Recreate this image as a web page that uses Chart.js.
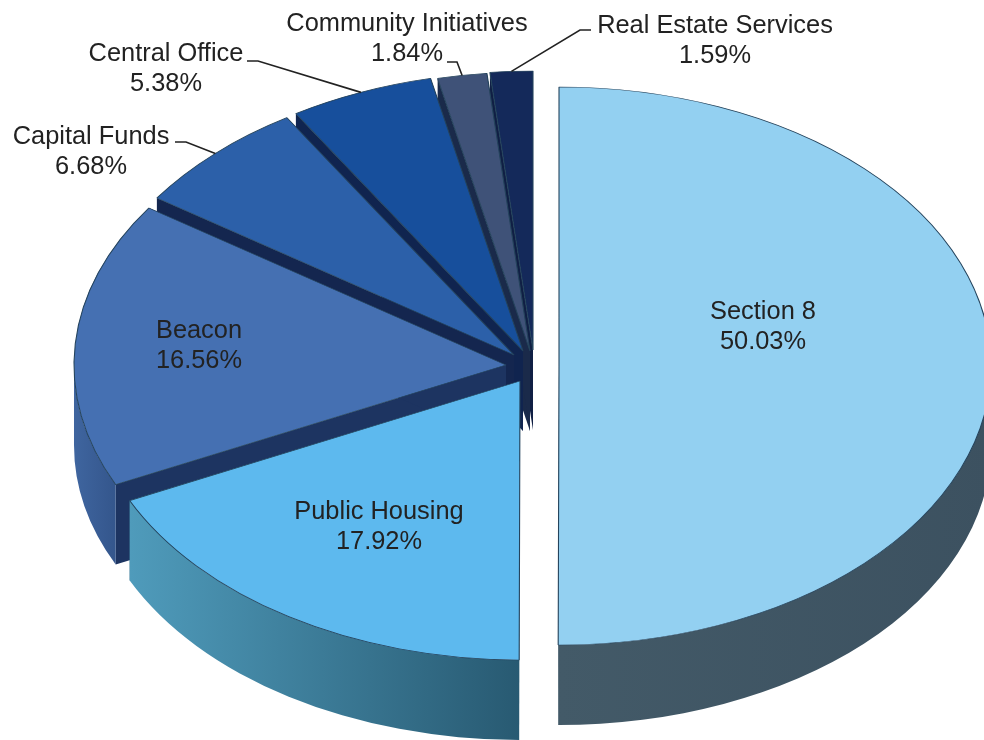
<!DOCTYPE html>
<html lang="en">
<head>
    <title>Budget by program</title>
    <script src="https://cdn.jsdelivr.net/npm/chart.js@4"></script>
    <style>
        body { margin: 0; background: #fff; }
    </style>
</head>
<body>
<canvas id="budgetPie" width="984" height="740"></canvas>

<script>
    var categories = ['Section 8', 'Public Housing', 'Beacon', 'Capital Funds', 'Central Office', 'Community Initiatives', 'Real Estate Services'];
    var shares = [50.03, 17.92, 16.56, 6.68, 5.38, 1.84, 1.59];

    var topColors = ['#93d0f1', '#5db9ee', '#4570b2', '#2c60a9', '#174f9c', '#3f5278', '#14295a'];
    var cutColors = ['#3e5563', '#285a72', '#1d3461', '#14264f', '#10244f', '#1a2a4a', '#101f44'];
    var wallLeft = ['#435a68', '#4f9bbb', '#3f659f', '#2c60a9', '#174f9c', '#3f5278', '#14295a'];
    var wallRight = ['#3c5160', '#285a72', '#34568c', '#2c60a9', '#174f9c', '#3f5278', '#14295a'];

    // how far each slice is pulled out of the pie, in px
    var shiftX = [67, 28, 14, 22, 31, 38, 41];
    var shiftY = [-4, 11, -5, -15, -19, -19, -20];

    var pieHeight = 279;    // radius, y stays 1:1
    var stretchX = 432 / pieHeight;
    var depth = 80;

    // centre of the first text line, then the leader line start and elbow
    var labelX = [763, 379, 199, 91, 166, 407, 715];
    var labelY = [312, 512, 331, 137, 54, 24, 26];
    var leaders = [null, null, null, [175, 142, 186, 142], [247, 61, 258, 61], [447, 62, 457, 62], [591, 30, 580, 30]];

    function toSliceSpace(ctx, arc, i) {
        ctx.translate(arc.x + shiftX[i], arc.y + shiftY[i]);
        ctx.scale(stretchX, 1);
        ctx.translate(-arc.x, -arc.y);
    }

    function drawCut(ctx, arc, angle, color) {
        var px = arc.x + Math.cos(angle) * arc.outerRadius;
        var py = arc.y + Math.sin(angle) * arc.outerRadius;
        ctx.fillStyle = color;
        ctx.beginPath();
        ctx.moveTo(arc.x, arc.y);
        ctx.lineTo(px, py);
        ctx.lineTo(px, py + depth);
        ctx.lineTo(arc.x, arc.y + depth);
        ctx.closePath();
        ctx.fill();
    }

    // only the front half of the rim can be seen
    function drawRim(ctx, arc, i) {
        var from = Math.max(arc.startAngle, 0);
        var to = Math.min(arc.endAngle, Math.PI);
        if (to <= from) return;
        var grad = ctx.createLinearGradient(arc.x + Math.cos(to) * arc.outerRadius, 0, arc.x + Math.cos(from) * arc.outerRadius, 0);
        grad.addColorStop(0, wallLeft[i]);
        grad.addColorStop(1, wallRight[i]);
        ctx.fillStyle = grad;
        ctx.beginPath();
        ctx.arc(arc.x, arc.y, arc.outerRadius, from, to, false);
        ctx.arc(arc.x, arc.y + depth, arc.outerRadius, to, from, true);
        ctx.closePath();
        ctx.fill();
    }

    var tiltedPie = {
        id: 'tiltedPie',
        beforeDatasetsDraw: function (chart) {
            var ctx = chart.ctx;
            var arcs = chart.getDatasetMeta(0).data;
            // back slices first, the big front ones go over them
            for (var i = arcs.length - 1; i >= 0; i--) {
                ctx.save();
                toSliceSpace(ctx, arcs[i], i);
                drawCut(ctx, arcs[i], arcs[i].startAngle, cutColors[i]);
                drawCut(ctx, arcs[i], arcs[i].endAngle, cutColors[i]);
                drawRim(ctx, arcs[i], i);
                arcs[i].draw(ctx);
                ctx.restore();
            }
            return false;
        },
        afterDraw: function (chart) {
            var ctx = chart.ctx;
            var arcs = chart.getDatasetMeta(0).data;
            ctx.save();
            ctx.strokeStyle = '#222';
            ctx.lineWidth = 1.6;
            leaders.forEach(function (l, i) {
                if (!l) return;
                var arc = arcs[i];
                var mid = (arc.startAngle + arc.endAngle) / 2;
                ctx.beginPath();
                ctx.moveTo(l[0], l[1]);
                ctx.lineTo(l[2], l[3]);
                ctx.lineTo(arc.x + shiftX[i] + Math.cos(mid) * arc.outerRadius * stretchX, arc.y + shiftY[i] + Math.sin(mid) * arc.outerRadius);
                ctx.stroke();
            });
            ctx.fillStyle = '#222';
            ctx.font = '25.4px "Liberation Sans"';
            ctx.textAlign = 'center';
            ctx.textBaseline = 'middle';
            categories.forEach(function (name, i) {
                ctx.fillText(name, labelX[i], labelY[i]);
                ctx.fillText(shares[i].toFixed(2) + '%', labelX[i], labelY[i] + 30);
            });
            ctx.restore();
        }
    };

    var chart = new Chart(document.getElementById('budgetPie').getContext('2d'), {
        type: 'pie',
        data: {
            labels: categories,
            datasets: [{
                data: shares,
                backgroundColor: topColors,
                borderColor: '#24435c',
                borderWidth: 0.7,
                clip: false
            }]
        },
        options: {
            responsive: false,
            animation: false,
            radius: pieHeight,
            plugins: {
                legend: { display: false },
                tooltip: { enabled: false }
            }
        },
        plugins: [tiltedPie]
    });
</script>
</body>
</html>
